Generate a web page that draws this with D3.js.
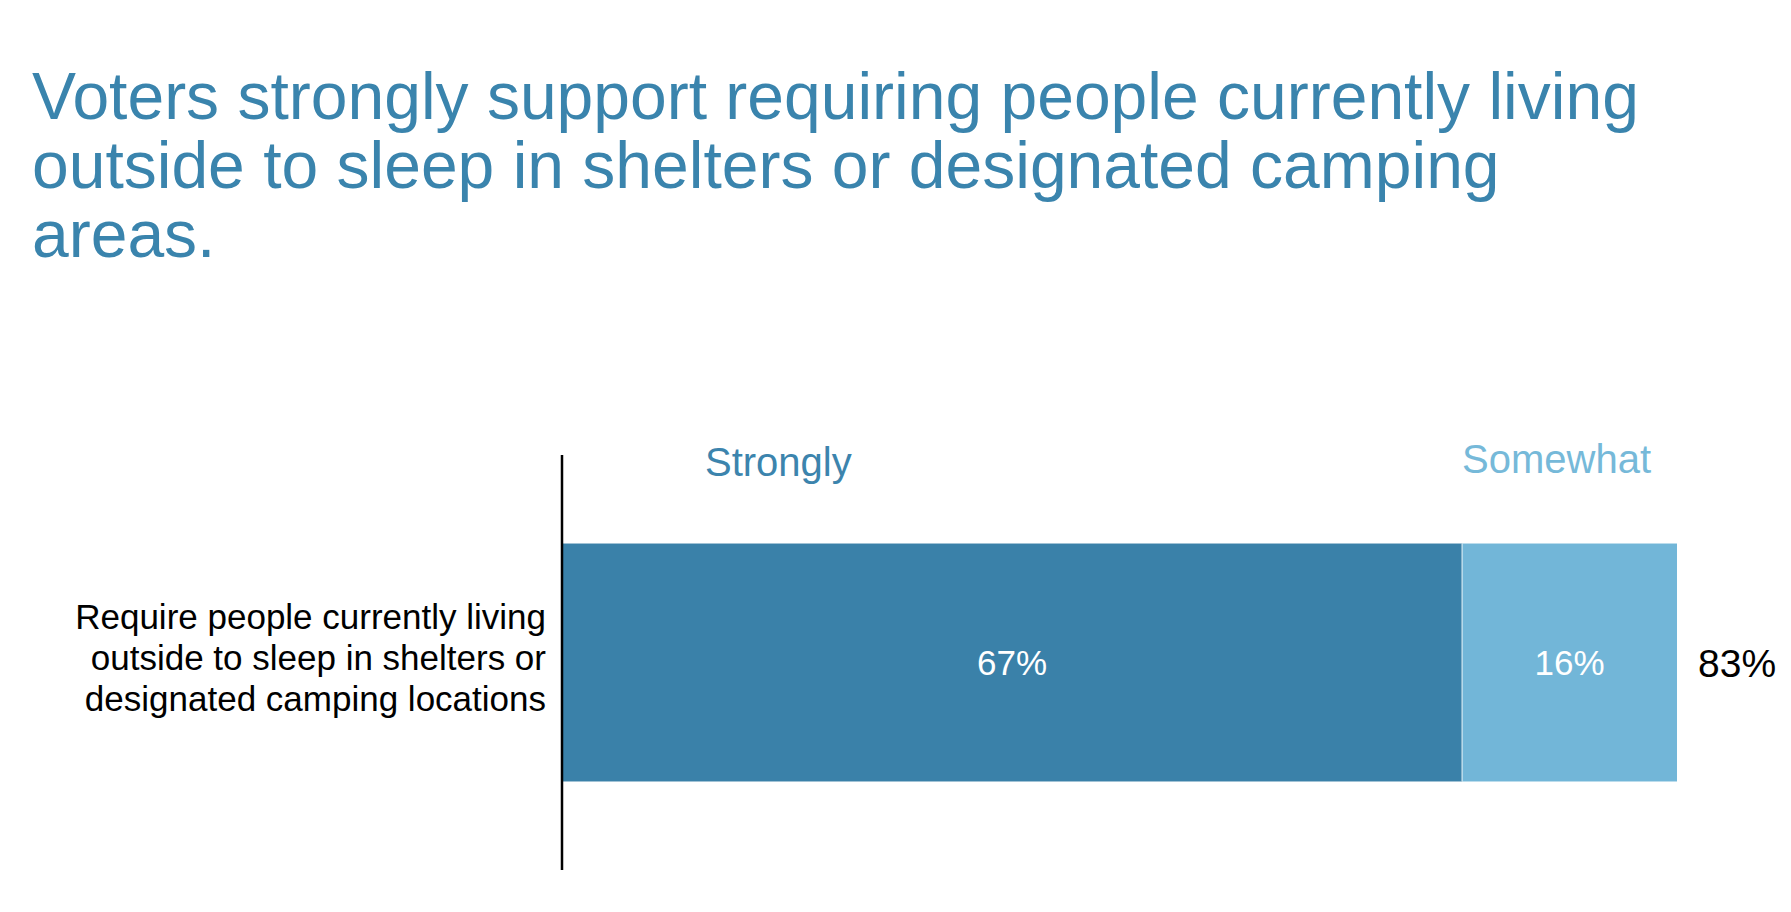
<!DOCTYPE html>
<head>
    <meta charset="utf-8">
    <title>Voters strongly support requiring shelter</title>
    <style>
        body { margin: 0; background: #fff; }
        text { font-family: "Liberation Sans", Arial, Helvetica, sans-serif; }
    </style>
</head>
<body>

<script src="https://d3js.org/d3.v7.min.js"></script>

<script>
// data
let titleLines = ["Voters strongly support requiring people currently living",
                  "outside to sleep in shelters or designated camping",
                  "areas."];
let categories = ["Require people currently living outside to sleep in shelters or designated camping locations"];
let categoryLines = ["Require people currently living", "outside to sleep in shelters or", "designated camping locations"];
let seriesNames = ["Strongly", "Somewhat"];
let strongly = [67];
let somewhat = [16];
let totals = [83];

let width = 1791;
let height = 912;

let svg = d3.select("body").append("svg")
    .attr("width", width)
    .attr("height", height);

let colors = ["#3a81a9", "#72b6d8"];
let labelColors = ["#3c84ad", "#76b9d9"];

// title
svg.selectAll(".title")
    .data(titleLines)
    .join("text")
    .attr("class", "title")
    .attr("x", 32)
    .attr("y", (d, i) => 119 + i * 69)
    .attr("fill", "#3a84ad")
    .style("font-size", "66px")
    .text(d => d);

let x = d3.scaleLinear()
    .domain([0, d3.max(totals)])
    .range([562, 1677]);

let y = d3.scaleBand()
    .domain(categories)
    .range([455, 870])
    .paddingInner(0)
    .paddingOuter(0.372);

// stacked data
let rows = categories.map((c, i) => ({ cat: c, Strongly: strongly[i], Somewhat: somewhat[i] }));
let stack = d3.stack().keys(seriesNames)(rows);

let layers = svg.selectAll(".layer")
    .data(stack)
    .join("g")
    .attr("class", "layer")
    .attr("fill", (d, i) => colors[i]);

layers.selectAll("rect")
    .data(d => d)
    .join("rect")
    .attr("x", d => x(d[0]))
    .attr("y", d => y(d.data.cat))
    .attr("width", d => x(d[1]) - x(d[0]))
    .attr("height", y.bandwidth());

// values inside bars
layers.selectAll(".val")
    .data(d => d)
    .join("text")
    .attr("class", "val")
    .attr("x", d => (x(d[0]) + x(d[1])) / 2)
    .attr("y", d => y(d.data.cat) + y.bandwidth() / 2)
    .attr("dy", "0.36em")
    .attr("text-anchor", "middle")
    .attr("fill", "#fff")
    .style("font-size", "35px")
    .text(d => (d[1] - d[0]) + "%");

// separator between segments
svg.append("line")
    .attr("x1", x(strongly[0]))
    .attr("x2", x(strongly[0]))
    .attr("y1", y(categories[0]))
    .attr("y2", y(categories[0]) + y.bandwidth())
    .attr("stroke", "#e8f2f7")
    .attr("stroke-width", 1);

// totals
svg.selectAll(".total")
    .data(totals)
    .join("text")
    .attr("class", "total")
    .attr("x", d => x(d) + 21)
    .attr("y", (d, i) => y(categories[i]) + y.bandwidth() / 2)
    .attr("dy", "0.36em")
    .attr("fill", "#000")
    .style("font-size", "39px")
    .text(d => d + "%");

// series header labels
let headerX = [705, x(strongly[0])];
svg.selectAll(".header")
    .data(seriesNames)
    .join("text")
    .attr("class", "header")
    .attr("x", (d, i) => headerX[i])
    .attr("y", (d, i) => i === 0 ? 476 : 473)
    .attr("fill", (d, i) => labelColors[i])
    .style("font-size", "40px")
    .text(d => d);

// category label
svg.selectAll(".catlabel")
    .data(categoryLines)
    .join("text")
    .attr("class", "catlabel")
    .attr("x", 546)
    .attr("y", (d, i) => 629 + i * 41)
    .attr("text-anchor", "end")
    .attr("fill", "#000")
    .style("font-size", "35px")
    .text(d => d);

// axis line
svg.append("line")
    .attr("x1", 562)
    .attr("x2", 562)
    .attr("y1", 455)
    .attr("y2", 870)
    .attr("stroke", "#000")
    .attr("stroke-width", 2.5);

</script>

</body>
